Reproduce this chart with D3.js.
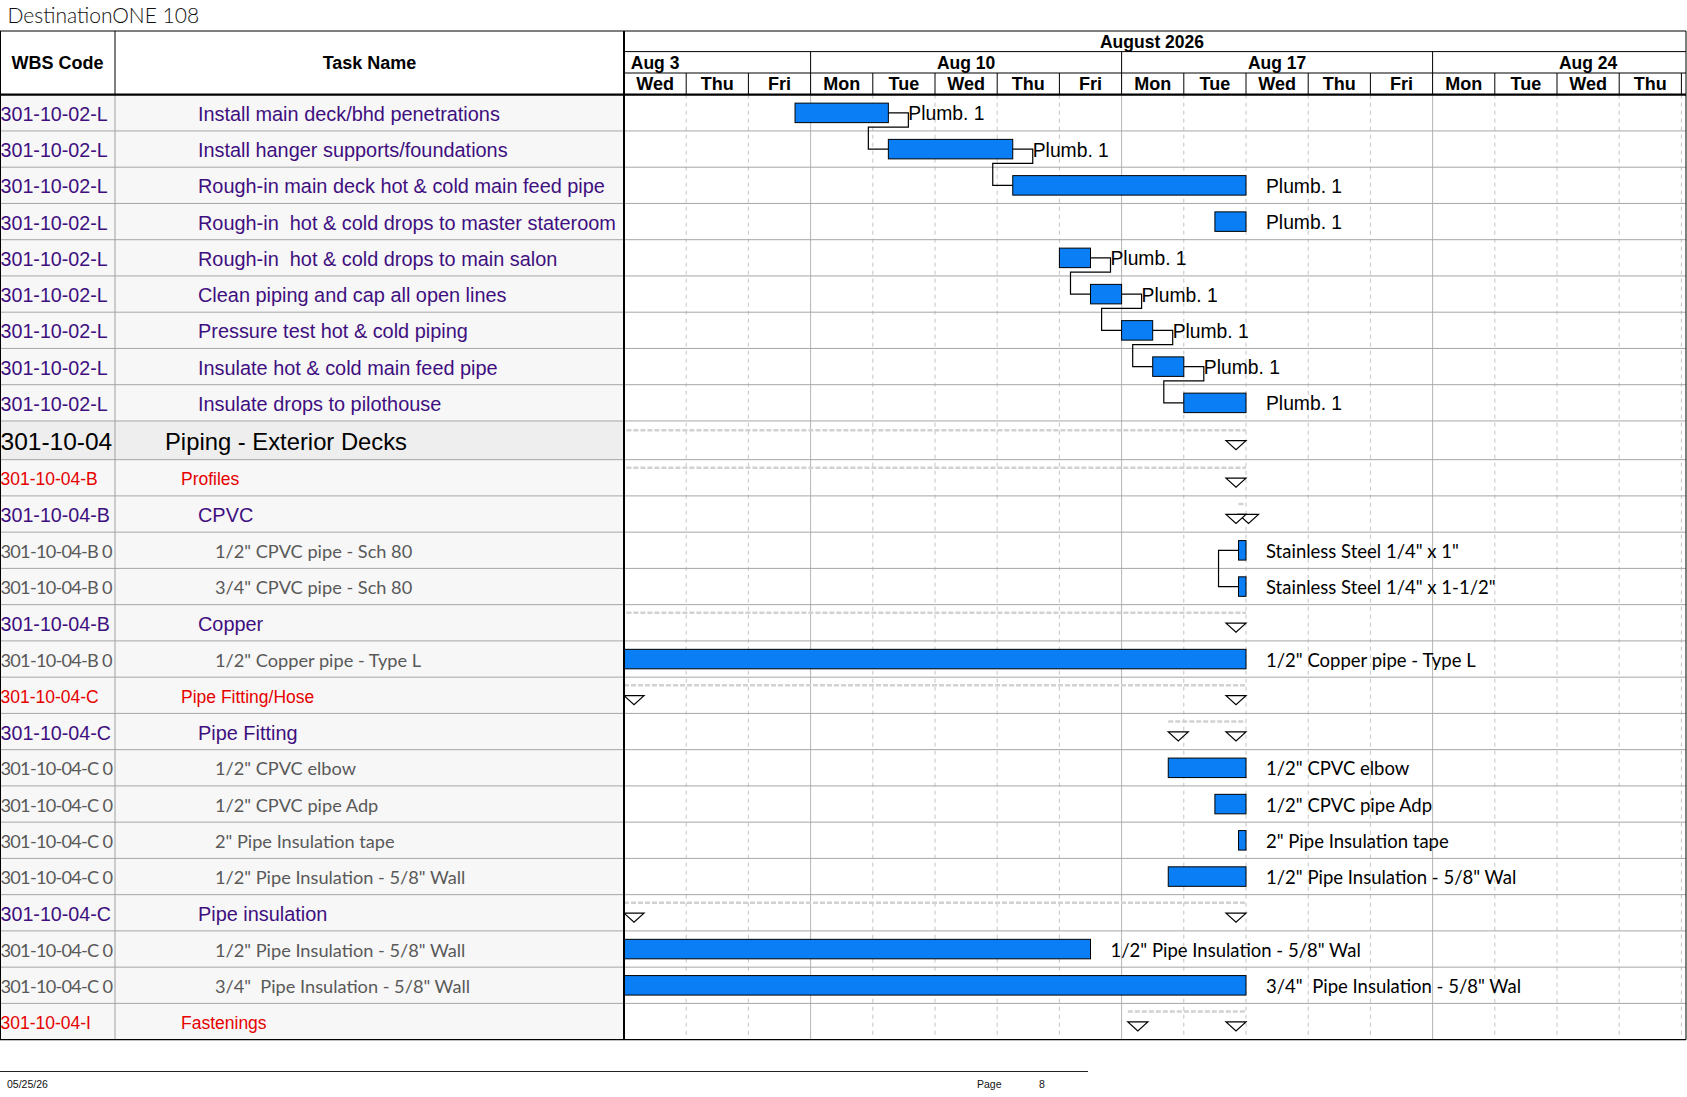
<!DOCTYPE html>
<html><head><meta charset="utf-8">
<script src="https://cdn.jsdelivr.net/npm/d3@7"></script>
<style>html,body{margin:0;padding:0;background:#fff;} svg{display:block;} text{white-space:pre;}</style>
</head><body><svg id="c" width="1687" height="1097"></svg>
<script>
// ---------------- DATA ----------------
const chartTitle = "DestinationONE 108";
const monthLabel = "August 2026";
const weekLabels = ["Aug 3", "Aug 10", "Aug 17", "Aug 24"];
const weekStartDays = [-2, 3, 8, 13];           // working-day offsets from Wed Aug 5
const dayLabels = ["Wed","Thu","Fri","Mon","Tue","Wed","Thu","Fri","Mon","Tue","Wed","Thu","Fri","Mon","Tue","Wed","Thu"];
const columnHeaders = ["WBS Code", "Task Name"];

const wbsCodes = [
  "301-10-02-L","301-10-02-L","301-10-02-L","301-10-02-L","301-10-02-L","301-10-02-L","301-10-02-L","301-10-02-L","301-10-02-L",
  "301-10-04","301-10-04-B","301-10-04-B","301-10-04-B 0","301-10-04-B 0","301-10-04-B","301-10-04-B 0",
  "301-10-04-C","301-10-04-C","301-10-04-C 0","301-10-04-C 0","301-10-04-C 0","301-10-04-C 0",
  "301-10-04-C","301-10-04-C 0","301-10-04-C 0","301-10-04-I"
];
const taskNames = [
  "Install main deck/bhd penetrations",
  "Install hanger supports/foundations",
  "Rough-in main deck hot & cold main feed pipe",
  "Rough-in  hot & cold drops to master stateroom",
  "Rough-in  hot & cold drops to main salon",
  "Clean piping and cap all open lines",
  "Pressure test hot & cold piping",
  "Insulate hot & cold main feed pipe",
  "Insulate drops to pilothouse",
  "Piping - Exterior Decks",
  "Profiles",
  "CPVC",
  "1/2\" CPVC pipe - Sch 80",
  "3/4\" CPVC pipe - Sch 80",
  "Copper",
  "1/2\" Copper pipe - Type L",
  "Pipe Fitting/Hose",
  "Pipe Fitting",
  "1/2\" CPVC elbow",
  "1/2\" CPVC pipe Adp",
  "2\" Pipe Insulation tape",
  "1/2\" Pipe Insulation - 5/8\" Wall",
  "Pipe insulation",
  "1/2\" Pipe Insulation - 5/8\" Wall",
  "3/4\"  Pipe Insulation - 5/8\" Wall",
  "Fastenings"
];
// task = detail task, top = level-1 summary, red = level-2 summary, sub = level-3 summary, item = material line
const taskKinds = [
  "task","task","task","task","task","task","task","task","task",
  "top","red","sub","item","item","sub","item",
  "red","sub","item","item","item","item",
  "sub","item","item","red"
];
// start / finish in working days from Wed Aug 5 2026 (negative = before visible range)
const starts   = [2.75, 4.25, 6.25, 9.5, 7, 7.5, 8, 8.5, 9,  -3, -3, 9.88, 9.88, 9.88, -3, -3,  0, 8.75, 8.75, 9.5, 9.88, 8.75,  0, 0, 0, 8.1];
const finishes = [4.25, 6.25, 10,   10,  7.5, 8, 8.5, 9, 10,  10, 10, 10,   10,   10,   10, 10,  10, 10,   10,   10,  10,   10,    10, 7.5, 10, 10];
const barLabels = [
  "Plumb. 1","Plumb. 1","Plumb. 1","Plumb. 1","Plumb. 1","Plumb. 1","Plumb. 1","Plumb. 1","Plumb. 1",
  "","","","Stainless Steel 1/4\" x 1\"","Stainless Steel 1/4\" x 1-1/2\"","","1/2\" Copper pipe - Type L",
  "","","1/2\" CPVC elbow","1/2\" CPVC pipe Adp","2\" Pipe Insulation tape","1/2\" Pipe Insulation - 5/8\" Wal",
  "","1/2\" Pipe Insulation - 5/8\" Wal","3/4\"  Pipe Insulation - 5/8\" Wal",""
];
const fsLinks = [[0,1],[1,2],[4,5],[5,6],[6,7],[7,8]];
const ssLinks = [[12,13]];
const footerDate = "05/25/26";
const footerPageLabel = "Page";
const footerPage = "8";

// ---------------- LAYOUT ----------------
const svg = d3.select("#c");
const colWbsR = 115, colTaskR = 624, chartR = 1686;
const headTop = 31, headMid1 = 51.6, headMid2 = 73, headBot = 94.7;
const dayW = 62.2;
const x = d3.scaleLinear().domain([0, 17]).range([colTaskR, colTaskR + 17 * dayW]);

const rowH = taskKinds.map(k => k === "top" ? 38.7 : 36.25);
const rowTop = [];
{ let acc = headBot; rowH.forEach(h => { rowTop.push(acc); acc += h; }); }
const bodyBot = rowTop[rowTop.length - 1] + rowH[rowH.length - 1];
const mid = i => rowTop[i] + rowH[i] / 2;

const ARIAL = "'Liberation Sans', Arial, sans-serif";
const CALI = "Lato, 'Open Sans', sans-serif";
const PURPLE = "#3f0f80", RED = "#e60000", GRAY = "#595959";
const BLUE = "#0a7ff5";

const kindStyle = {
  task: {wbsFont: ARIAL, wbsSize: 19.7, wbsColor: PURPLE, wbsLs: 0,    nameSize: 19.9, nameX: 198, font: ARIAL, color: PURPLE},
  top:  {wbsFont: ARIAL, wbsSize: 24.5, wbsColor: "#000", wbsLs: 0,    nameSize: 23.8, nameX: 165, font: ARIAL, color: "#000"},
  red:  {wbsFont: ARIAL, wbsSize: 17.5, wbsColor: RED,    wbsLs: 0,    nameSize: 17.5, nameX: 181, font: ARIAL, color: RED},
  sub:  {wbsFont: ARIAL, wbsSize: 19.7, wbsColor: PURPLE, wbsLs: 0,    nameSize: 19.9, nameX: 198, font: ARIAL, color: PURPLE},
  item: {wbsFont: CALI,  wbsSize: 18.2, wbsColor: GRAY,   wbsLs: -0.75, nameSize: 18.2, nameX: 215, font: CALI,  color: GRAY}
};
const isSummary = k => k === "top" || k === "red" || k === "sub";

const defs = svg.append("defs");
defs.append("clipPath").attr("id", "clipChart").append("rect")
  .attr("x", colTaskR + 1).attr("y", 0).attr("width", chartR - colTaskR - 1).attr("height", 1097);
defs.append("clipPath").attr("id", "clipWbs").append("rect")
  .attr("x", 0).attr("y", 0).attr("width", colWbsR).attr("height", 1097);
defs.append("clipPath").attr("id", "clipTask").append("rect")
  .attr("x", colWbsR).attr("y", 0).attr("width", colTaskR - colWbsR).attr("height", 1097);

// ---------- left table backgrounds ----------
const rows = d3.range(taskNames.length);
svg.append("g").selectAll("rect").data(rows).join("rect")
  .attr("x", 0).attr("y", i => rowTop[i]).attr("width", colTaskR).attr("height", i => rowH[i])
  .attr("fill", i => taskKinds[i] === "top" ? "#eeeeee" : "#f7f7f7");

// ---------- body grid ----------
const gridG = svg.append("g");
d3.range(1, 18).forEach(d => {
  const solid = weekStartDays.includes(d);
  gridG.append("line")
    .attr("x1", x(d)).attr("x2", x(d)).attr("y1", headBot).attr("y2", bodyBot)
    .attr("stroke", solid ? "#b4b4b4" : "#c4c4c4")
    .attr("stroke-width", 1)
    .attr("stroke-dasharray", solid ? null : "4,4");
});
svg.append("g").selectAll("line").data(rows.slice(0, -1)).join("line")
  .attr("x1", 0).attr("x2", chartR).attr("y1", i => rowTop[i] + rowH[i]).attr("y2", i => rowTop[i] + rowH[i])
  .attr("stroke", "#a6a6a6").attr("stroke-width", 1);

// ---------- left table texts ----------
const wbsG = svg.append("g").attr("clip-path", "url(#clipWbs)");
wbsG.selectAll("text").data(rows).join("text")
  .attr("x", 0.5)
  .attr("y", i => mid(i) + 0.36 * kindStyle[taskKinds[i]].wbsSize + 1)
  .attr("font-family", i => kindStyle[taskKinds[i]].wbsFont)
  .attr("font-size", i => kindStyle[taskKinds[i]].wbsSize)
  .attr("letter-spacing", i => kindStyle[taskKinds[i]].wbsLs)
  .attr("fill", i => kindStyle[taskKinds[i]].wbsColor)
  .text(i => wbsCodes[i]);
const nameG = svg.append("g").attr("clip-path", "url(#clipTask)");
nameG.selectAll("text").data(rows).join("text")
  .attr("x", i => kindStyle[taskKinds[i]].nameX)
  .attr("y", i => mid(i) + 0.36 * kindStyle[taskKinds[i]].nameSize + 1)
  .attr("font-family", i => kindStyle[taskKinds[i]].font)
  .attr("font-size", i => kindStyle[taskKinds[i]].nameSize)
  .attr("fill", i => kindStyle[taskKinds[i]].color)
  .text(i => taskNames[i]);

// ---------- gantt ----------
const gantt = svg.append("g").attr("clip-path", "url(#clipChart)");
const sumRows = rows.filter(i => isSummary(taskKinds[i]));
const barRows = rows.filter(i => !isSummary(taskKinds[i]));
const barH = 19.5;
const barY = i => mid(i) - 9.7;

// summary dashed spans
gantt.append("g").selectAll("line").data(sumRows).join("line")
  .attr("x1", i => x(starts[i])).attr("x2", i => x(finishes[i]))
  .attr("y1", i => mid(i) - 10).attr("y2", i => mid(i) - 10)
  .attr("stroke", "#d2d2d2").attr("stroke-width", 2.5).attr("stroke-dasharray", "5,2");

// links
const linkG = gantt.append("g").attr("fill", "none").attr("stroke", "#000").attr("stroke-width", 1.2);
fsLinks.forEach(([p, s]) => {
  const xe = x(finishes[p]), xs = x(starts[s]);
  const yb = barY(p) + barH + 4.5;
  const path = d3.path();
  path.moveTo(xe, mid(p)); path.lineTo(xe + 20, mid(p)); path.lineTo(xe + 20, yb);
  path.lineTo(xs - 20, yb); path.lineTo(xs - 20, mid(s)); path.lineTo(xs, mid(s));
  linkG.append("path").attr("d", path.toString());
});
ssLinks.forEach(([p, s]) => {
  const xp = x(starts[p]), xs = x(starts[s]);
  const path = d3.path();
  path.moveTo(xp, mid(p)); path.lineTo(xp - 20, mid(p)); path.lineTo(xp - 20, mid(s)); path.lineTo(xs, mid(s));
  linkG.append("path").attr("d", path.toString());
});

// bars
gantt.append("g").selectAll("rect").data(barRows).join("rect")
  .attr("x", i => x(starts[i])).attr("y", i => barY(i))
  .attr("width", i => x(finishes[i]) - x(starts[i])).attr("height", barH)
  .attr("fill", BLUE).attr("stroke", "#000").attr("stroke-width", 1);

// summary triangles (start cap left-aligned, finish cap right-aligned)
const triW = 20, triH = 9;
const tris = [];
sumRows.forEach(i => {
  const ty = mid(i) + 0.3;
  if (starts[i] >= 0) tris.push({x0: x(starts[i]), y: ty});
  tris.push({x0: x(finishes[i]) - triW, y: ty});
});
gantt.append("g").selectAll("path").data(tris).join("path")
  .attr("d", t => `M${t.x0},${t.y}H${t.x0 + triW}L${t.x0 + triW / 2},${t.y + triH}Z`)
  .attr("fill", "#fff").attr("stroke", "#000").attr("stroke-width", 1.2);

// bar labels
gantt.append("g").selectAll("text").data(barRows.filter(i => barLabels[i])).join("text")
  .attr("x", i => x(finishes[i]) + 20)
  .attr("y", i => mid(i) + (taskKinds[i] === "task" ? 0.36 * 19.3 + 0.5 : 0.36 * 18.5 + 1))
  .attr("font-family", i => taskKinds[i] === "task" ? ARIAL : CALI)
  .attr("font-size", i => taskKinds[i] === "task" ? 19.3 : 18.5)
  .attr("fill", "#000")
  .text(i => barLabels[i]);

// ---------- header ----------
const head = svg.append("g");
head.append("rect").attr("x", 0).attr("y", headTop).attr("width", chartR).attr("height", headBot - headTop).attr("fill", "#fff");
head.append("text").attr("x", colWbsR / 2).attr("y", (headTop + headBot) / 2 + 6.5)
  .attr("text-anchor", "middle").attr("font-family", ARIAL).attr("font-weight", "bold").attr("font-size", 18)
  .text(columnHeaders[0]);
head.append("text").attr("x", (colWbsR + colTaskR) / 2).attr("y", (headTop + headBot) / 2 + 6.5)
  .attr("text-anchor", "middle").attr("font-family", ARIAL).attr("font-weight", "bold").attr("font-size", 18)
  .text(columnHeaders[1]);

const headChart = head.append("g").attr("clip-path", "url(#clipChart)");
headChart.append("text").attr("x", (colTaskR + chartR) / 2 - 3).attr("y", (headTop + headMid1) / 2 + 6.3)
  .attr("text-anchor", "middle").attr("font-family", ARIAL).attr("font-weight", "bold").attr("font-size", 17.5)
  .text(monthLabel);
headChart.selectAll("text.wk").data(weekLabels).join("text").attr("class", "wk")
  .attr("x", (d, i) => x(weekStartDays[i] + 2.5)).attr("y", (headMid1 + headMid2) / 2 + 6.3)
  .attr("text-anchor", "middle").attr("font-family", ARIAL).attr("font-weight", "bold").attr("font-size", 17.5)
  .text(d => d);
headChart.selectAll("text.dy").data(dayLabels).join("text").attr("class", "dy")
  .attr("x", (d, i) => x(i + 0.5)).attr("y", (headMid2 + headBot) / 2 + 6.5)
  .attr("text-anchor", "middle").attr("font-family", ARIAL).attr("font-weight", "bold").attr("font-size", 18)
  .text(d => d);

const hl = (x1, y1, x2, y2, w, c) => svg.append("line").attr("x1", x1).attr("y1", y1).attr("x2", x2).attr("y2", y2)
  .attr("stroke", c || "#000").attr("stroke-width", w || 1);
hl(0, headTop, chartR, headTop, 1.2);
hl(colTaskR, headMid1, chartR, headMid1, 1);
hl(colTaskR, headMid2, chartR, headMid2, 1);
weekStartDays.filter(d => d > 0).forEach(d => hl(x(d), headMid1, x(d), headMid2, 1));
d3.range(1, 18).forEach(d => hl(x(d), headMid2, x(d), headBot, 1));
hl(colWbsR, headTop, colWbsR, headBot, 1);
hl(colWbsR, headBot, colWbsR, bodyBot, 1, "#a0a0a0");
hl(0.5, headTop, 0.5, bodyBot, 1);
hl(colTaskR, headTop, colTaskR, bodyBot, 2);
hl(chartR, headTop, chartR, bodyBot, 1);
hl(0, headBot, chartR, headBot, 2.2);
hl(0, bodyBot, chartR, bodyBot, 1.2);

// ---------- title & footer ----------
svg.append("text").attr("x", 7.5).attr("y", 23).attr("font-family", "Lato, sans-serif").attr("font-weight", 300)
  .attr("font-size", 21).attr("fill", "#111").text(chartTitle);
hl(0, 1071.5, 1088, 1071.5, 1, "#222");
const ft = (tx, t) => svg.append("text").attr("x", tx).attr("y", 1088).attr("font-family", ARIAL).attr("font-size", 10.5).attr("fill", "#111").text(t);
ft(7, footerDate);
ft(977, footerPageLabel);
ft(1039, footerPage);
</script>
</body></html>
